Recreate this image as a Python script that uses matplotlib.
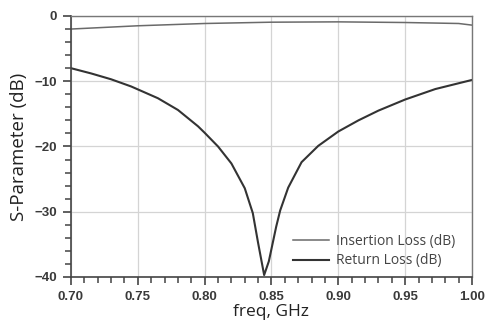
import matplotlib
matplotlib.use("Agg")
import matplotlib.pyplot as plt
from matplotlib.ticker import MultipleLocator

freq_il = [0.70, 0.75, 0.80, 0.85, 0.90, 0.95, 0.99, 1.00]
insertion_loss = [-2.0, -1.5, -1.15, -0.95, -0.9, -1.0, -1.15, -1.4]

freq_rl = [0.70, 0.715, 0.73, 0.745, 0.765, 0.78, 0.795, 0.80, 0.81, 0.82,
           0.83, 0.836, 0.840, 0.8445, 0.848, 0.8535, 0.8565, 0.8625, 0.8725,
           0.885, 0.90, 0.915, 0.93, 0.95, 0.9725, 1.00]
return_loss = [-8.0, -8.8, -9.7, -10.8, -12.6, -14.4, -16.9, -17.9, -20.0, -22.6,
               -26.4, -30.2, -34.8, -39.7, -37.6, -32.3, -29.8, -26.3, -22.4,
               -19.9, -17.7, -16.0, -14.5, -12.8, -11.2, -9.8]

fig = plt.figure(figsize=(4.91, 3.25), dpi=100)
ax = fig.add_axes([0.1446, 0.1477, 0.8167, 0.8031])

ax.plot(freq_il, insertion_loss, color="#6a6a6a", lw=1.1, label="Insertion Loss (dB)")
ax.plot(freq_rl, return_loss, color="#333333", lw=1.5, label="Return Loss (dB)")

ax.set_xlim(0.70, 1.00)
ax.set_ylim(-40, 0)
ax.xaxis.set_major_locator(MultipleLocator(0.05))
ax.xaxis.set_minor_locator(MultipleLocator(0.01))
ax.yaxis.set_major_locator(MultipleLocator(10))
ax.yaxis.set_minor_locator(MultipleLocator(2))
ax.xaxis.set_major_formatter(plt.FormatStrFormatter("%.2f"))

ax.grid(True, which="major", color="#d4d4d4", lw=0.9)
ax.set_axisbelow(True)

for side in ["left", "bottom"]:
    ax.spines[side].set_color("#444444")
    ax.spines[side].set_linewidth(1.2)
for side in ["top", "right"]:
    ax.spines[side].set_color("#777777")
    ax.spines[side].set_linewidth(1.0)

ax.tick_params(which="major", direction="out", length=6, width=1.2, color="#444444",
               labelsize=9.5, labelcolor="#3a3a3a", pad=4)
ax.tick_params(which="minor", direction="out", length=4, width=1.1, color="#444444")
ax.tick_params(top=False, right=False, bottom=True, left=True, which="both")
for lbl in ax.get_xticklabels() + ax.get_yticklabels():
    lbl.set_fontfamily("Liberation Sans")
    lbl.set_fontweight("bold")

ax.set_xlabel("freq, GHz", fontsize=12.5, family="Open Sans", color="#222222", labelpad=1)
ax.set_ylabel("S-Parameter (dB)", fontsize=13.5, family="Open Sans", color="#222222", labelpad=5)

leg = ax.legend(loc="lower right", bbox_to_anchor=(0.99, -0.015), frameon=False,
                prop={"family": "Open Sans", "size": 10}, handlelength=2.6,
                handletextpad=0.5, labelspacing=0.35)
for t in leg.get_texts():
    t.set_color("#444444")

fig.savefig("out.png", dpi=100)
